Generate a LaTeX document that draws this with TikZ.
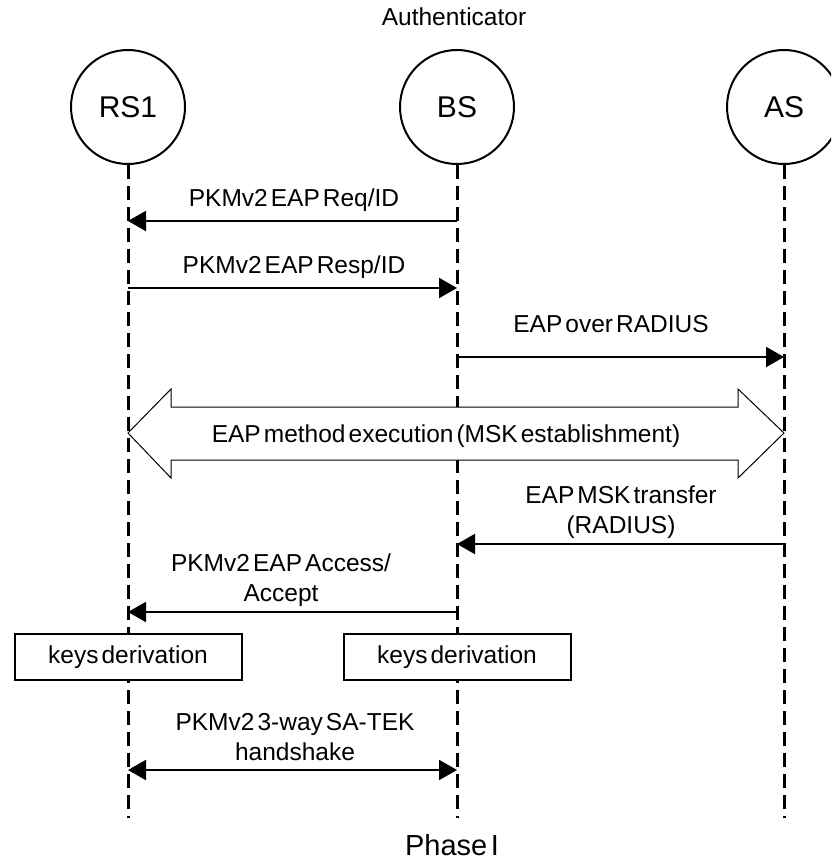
\documentclass[tikz,border=0pt]{standalone}
\usepackage{fontspec}
\setmainfont{Liberation Sans}[WordSpace=0.45]
\usetikzlibrary{arrows.meta}

\tikzset{
  actor/.style={circle, draw, line width=2pt, minimum size=114pt, inner sep=0pt,
    font=\fontsize{30}{30}\selectfont},
  life/.style={line width=3pt, dash pattern=on 14pt off 7pt},
  msg/.style={line width=2pt},
  lbl/.style={font=\fontsize{24.5}{29.5}\selectfont, align=center, inner sep=0pt, anchor=base},
  keybox/.style={draw, fill=white, line width=2pt, minimum width=227pt, minimum height=46pt,
    inner sep=0pt, font=\fontsize{24.5}{29.5}\selectfont},
}

\begin{document}
\begin{tikzpicture}[x=1pt, y=-1pt, >={Triangle[length=18pt,width=20pt]}]
  \useasboundingbox (0,0) rectangle (831,861);
  \clip (0,0) rectangle (831,861);

  % actors
  \node[actor] (RS1) at (128,107) {RS1};
  \node[actor] (BS)  at (457,107) {BS};
  \node[actor] (AS)  at (784,107) {AS};
  \node[lbl]   (auth) at (454,26) {Authenticator};

  % rows of the messages
  \coordinate (end) at (0,818);
  \coordinate (r1) at (0,221);
  \coordinate (r2) at (0,288);
  \coordinate (r3) at (0,357);
  \coordinate (r4) at (0,433);
  \coordinate (r5) at (0,544);
  \coordinate (r6) at (0,612);
  \coordinate (r7) at (0,657);
  \coordinate (r8) at (0,770);

  % lifelines
  \draw[life] (RS1) -- (RS1 |- end);
  \draw[life] (BS)  -- (BS |- end);
  \draw[life] (AS)  -- (AS |- end);

  \draw[msg,->] (BS |- r1) -- (RS1 |- r1);
  \node[lbl] (req) at (294,206) {PKMv2 EAP Req/ID};

  \draw[msg,->] (RS1 |- r2) -- (BS |- r2);
  \node[lbl] (resp) at (294,273) {PKMv2 EAP Resp/ID};

  \draw[msg,->] (BS |- r3) -- (AS |- r3);
  \node[lbl] (radius) at (611,332) {EAP over RADIUS};

  % big hollow arrow
  \draw[fill=white, line width=1pt] (RS1 |- r4) -- (171,389) -- (171,407) -- (738,407)
    -- (738,389) -- (AS |- r4) -- (738,478) -- (738,460) -- (171,460) -- (171,478) -- cycle;
  \node[lbl] (method) at (446,442) {EAP method execution (MSK establishment)};

  \draw[msg,->] (AS |- r5) -- (BS |- r5);
  \node[lbl] (msk) at (621,533) {EAP MSK transfer\\(RADIUS)};

  \draw[msg,->] (BS |- r6) -- (RS1 |- r6);
  \node[lbl] (access) at (281,601) {PKMv2 EAP Access/\\Accept};

  \node[keybox] (keys1) at (RS1 |- r7) {keys derivation};
  \node[keybox] (keys2) at (BS |- r7)  {keys derivation};

  \draw[msg,<->] (RS1 |- r8) -- (BS |- r8);
  \node[lbl] (satek) at (295,760) {PKMv2 3-way SA-TEK\\handshake};

  \node[lbl, font=\fontsize{29}{29}\selectfont] (phase) at (452,855) {Phase I};
\end{tikzpicture}
\end{document}
